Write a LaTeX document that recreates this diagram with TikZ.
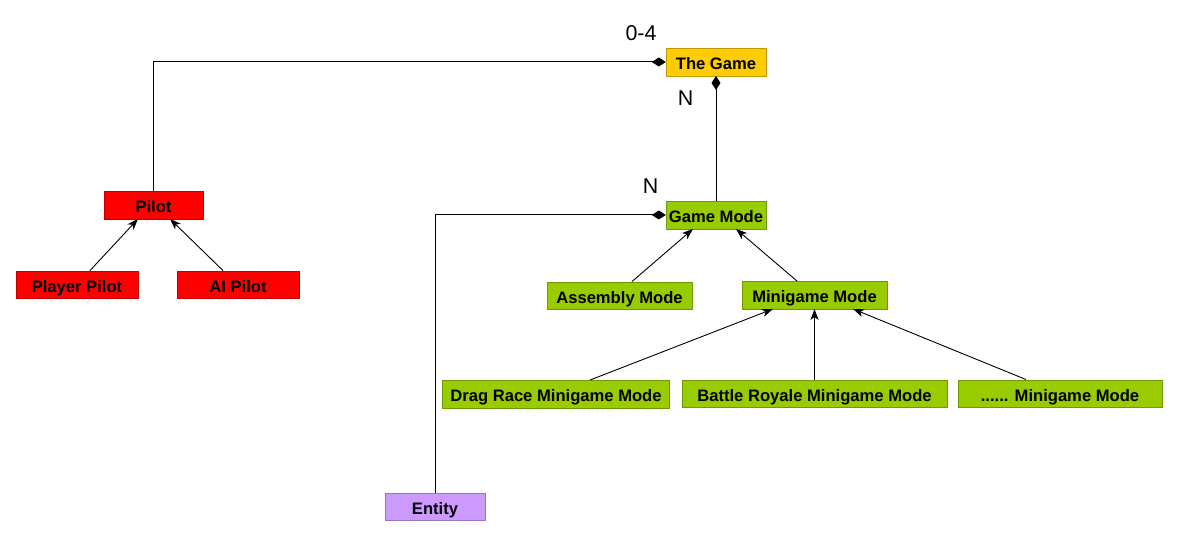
\documentclass[tikz,border=0pt]{standalone}
\usepackage{fontspec}
\setmainfont{Liberation Sans}
\usetikzlibrary{arrows.meta}
\definecolor{gold}{HTML}{FFCC00}
\definecolor{leaf}{HTML}{99CC00}
\definecolor{lilac}{HTML}{CC99FF}

\begin{document}
\begin{tikzpicture}[x=1pt,y=-1pt,
		box/.style={draw,inner sep=0pt,minimum height=27.5pt,text height=16pt,text depth=0pt,font=\bfseries\fontsize{16.6}{20}\selectfont},
		gamebox/.style={box,fill=gold,draw=gold!75!black},
		modebox/.style={box,fill=leaf,draw=leaf!75!black},
		pilotbox/.style={box,fill=red,draw=red!75!black},
		entitybox/.style={box,fill=lilac,draw=lilac!75!black},
		mult/.style={font=\fontsize{21.4}{24}\selectfont,inner sep=0pt},
		comp/.style={{Diamond[length=14pt,width=9pt]}-,line width=1pt},
		inh/.style={-{Stealth[length=11pt,width=8pt,inset=3pt]},line width=0.9pt}]
		\useasboundingbox (0,0) rectangle (1179,534);
		% boxes
		\node[gamebox,minimum width=100pt](game) at (716,62){The Game};
		\node[modebox,minimum width=100pt](mode) at (716,215){Game Mode};
		\node[pilotbox,minimum width=99pt](pilot) at (153.5,205){Pilot};
		\node[pilotbox,minimum width=122pt](player) at (77,284.5){Player Pilot};
		\node[pilotbox,minimum width=122pt](ai) at (238,284.5){AI Pilot};
		\node[modebox,minimum width=145pt](assembly) at (619.5,295.5){Assembly Mode};
		\node[modebox,minimum width=145pt](minigame) at (814.5,295){Minigame Mode};
		\node[modebox,minimum width=227pt](drag) at (556,394){Drag Race Minigame Mode};
		\node[modebox,minimum width=265pt](battle) at (814.5,393.5){Battle Royale Minigame Mode};
		\node[modebox,minimum width=204pt](more) at (1060,393.5){...... Minigame Mode};
		\node[entitybox,minimum width=100pt](entity) at (435,506.5){Entity};
		% multiplicities
		\node[mult](m04) at (641,33){0-4};
		\node[mult](mn1) at (685.5,98.5){N};
		\node[mult](mn2) at (650.5,186){N};
		% composition
		\draw[comp] (game.west) -| (pilot.north);
		\draw[comp] (game.south) -- (mode.north);
		\draw[comp] (mode.west) -| (entity.north);
		% inheritance
		\draw[inh] ([xshift=13pt]player.north) -- ([xshift=-15.5pt]pilot.south);
		\draw[inh] ([xshift=-15pt]ai.north) -- ([xshift=16.5pt]pilot.south);
		\draw[inh] ([xshift=12.5pt]assembly.north) -- ([xshift=-23pt]mode.south);
		\draw[inh] ([xshift=-17.5pt]minigame.north) -- ([xshift=20pt]mode.south);
		\draw[inh] ([xshift=34pt]drag.north) -- ([xshift=-41.5pt]minigame.south);
		\draw[inh] (battle.north) -- (minigame.south);
		\draw[inh] ([xshift=-34pt]more.north) -- ([xshift=38.5pt]minigame.south);
	\end{tikzpicture}
\end{document}
